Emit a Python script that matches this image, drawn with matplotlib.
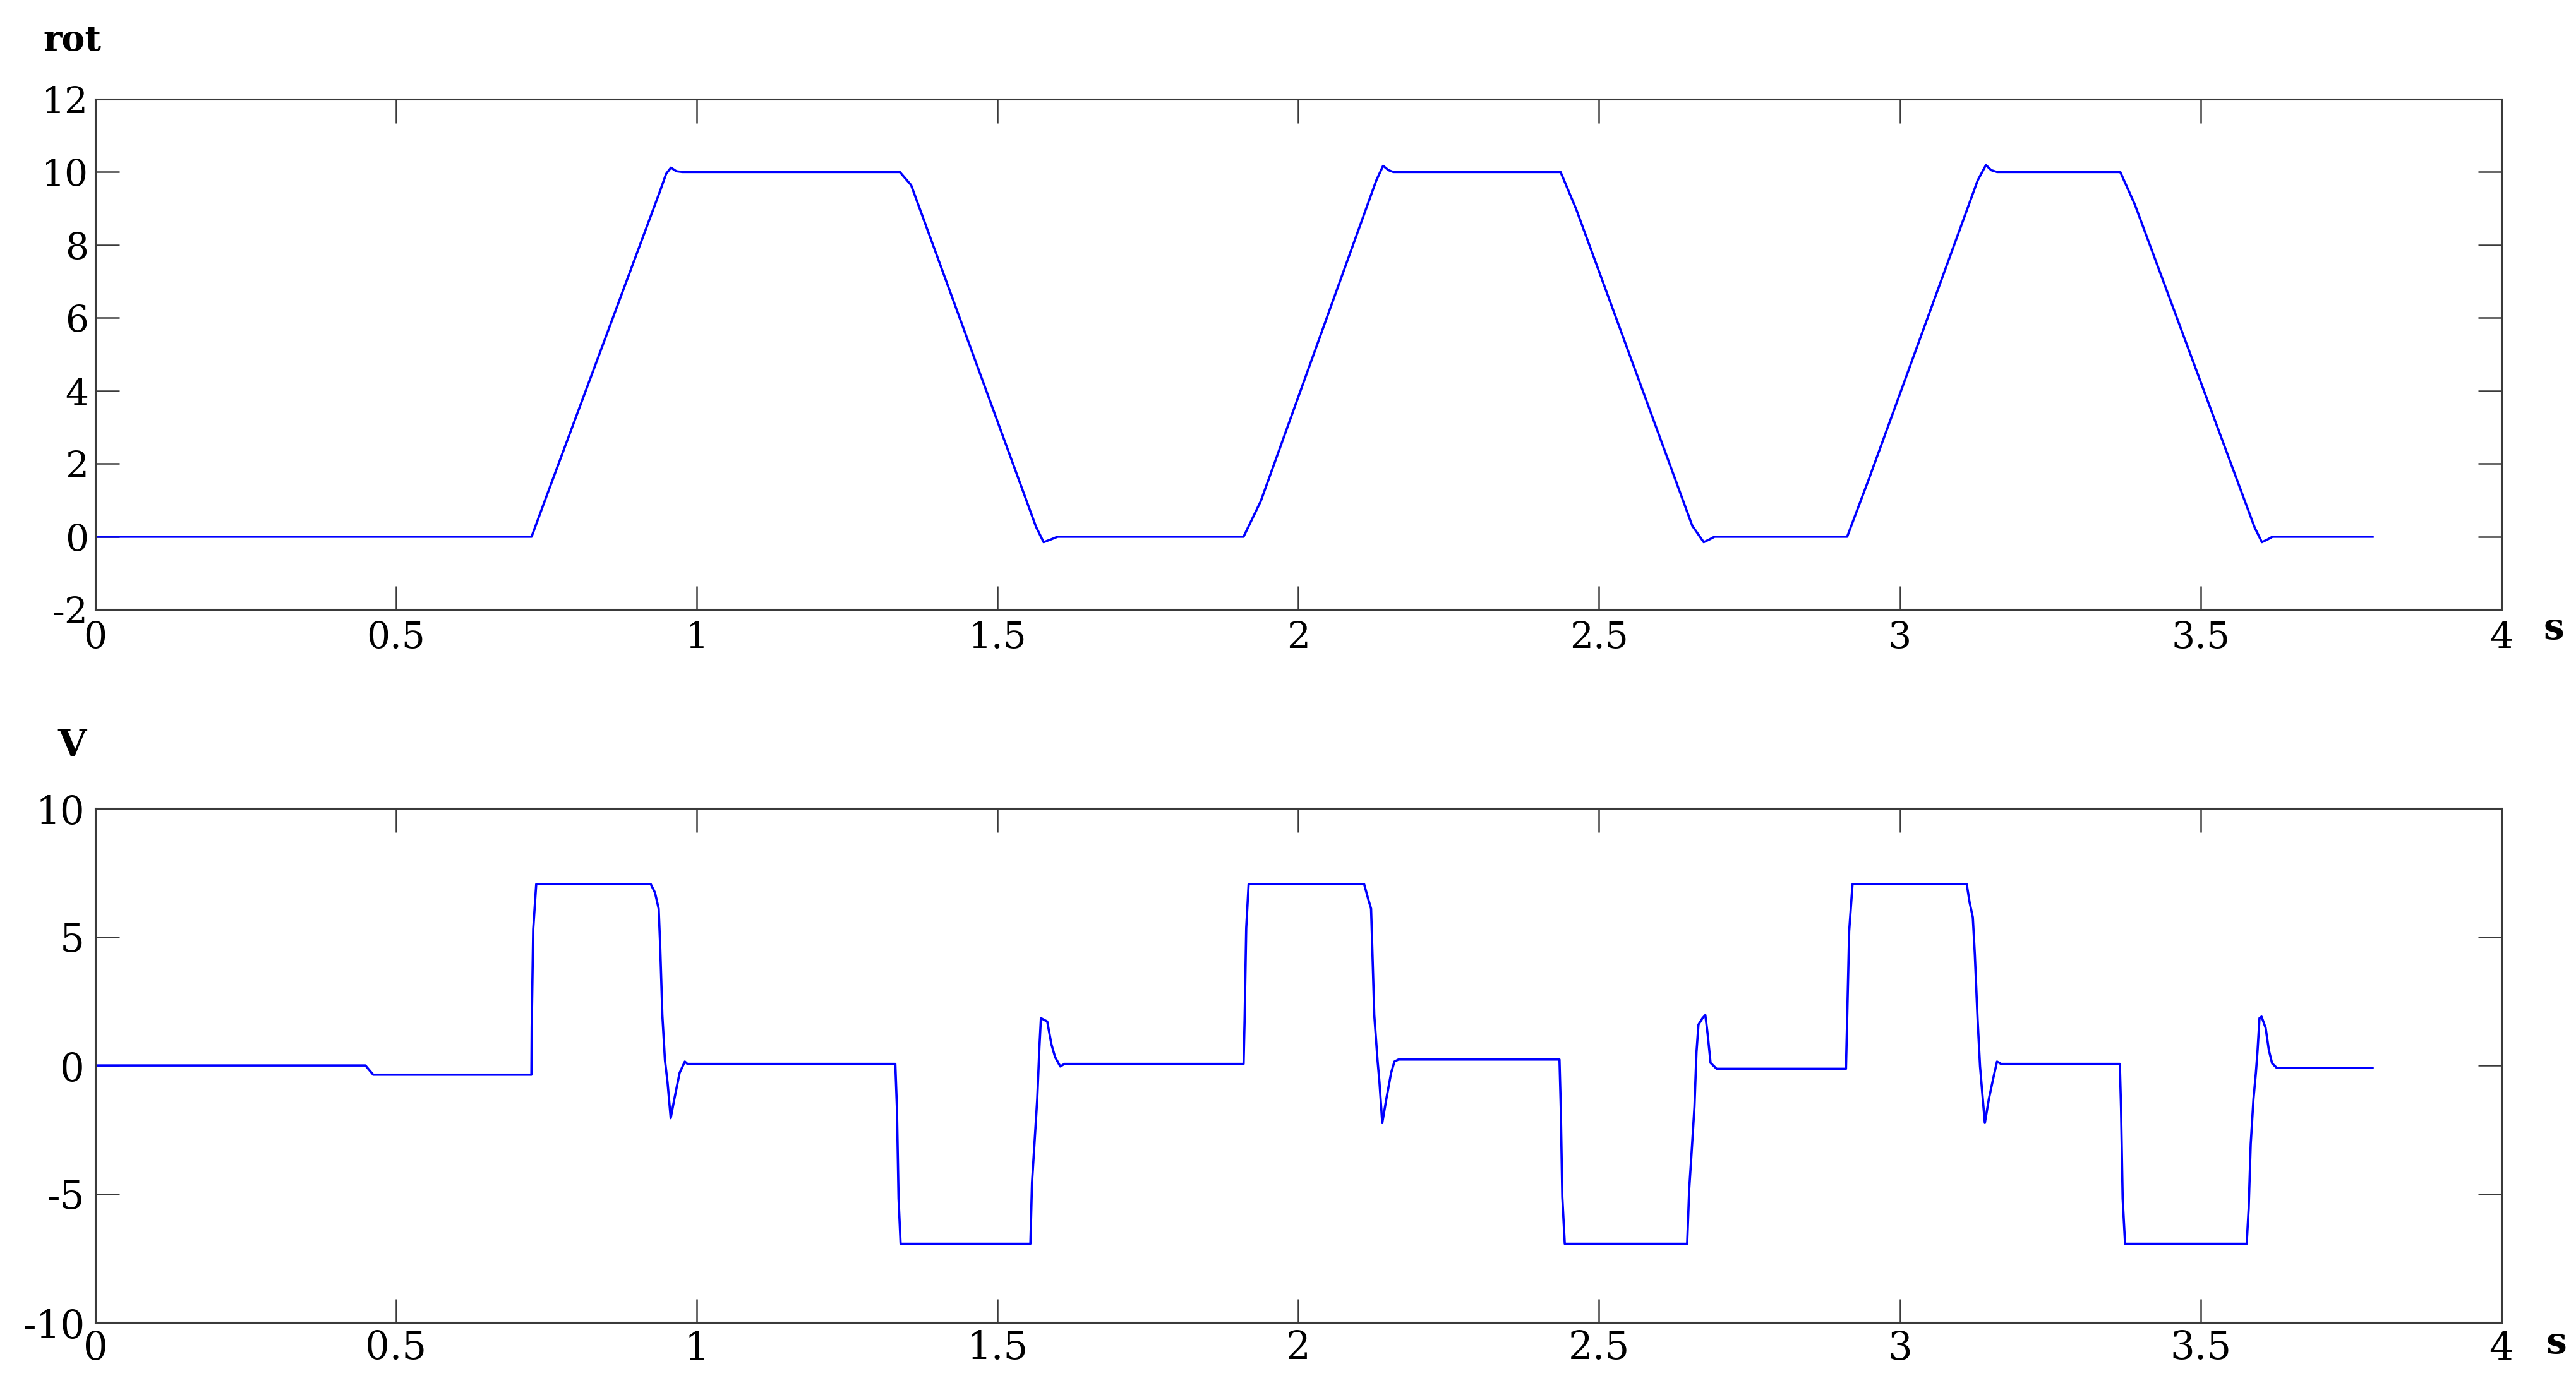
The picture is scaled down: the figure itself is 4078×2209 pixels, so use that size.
import matplotlib
matplotlib.use("Agg")
import matplotlib.pyplot as plt

# --- data ---
rot_t = [0.0, 0.7253, 0.751, 0.9385, 0.949, 0.957, 0.966, 0.976,
         1.3375, 1.3563, 1.564, 1.5766, 1.588, 1.600,
         1.909, 1.9375, 2.1297, 2.141, 2.150, 2.158,
         2.436, 2.462, 2.655, 2.674, 2.683, 2.692,
         2.9125, 2.9488, 3.1295, 3.1432, 3.152, 3.1617,
         3.3665, 3.3907, 3.590, 3.602, 3.611, 3.6196, 3.786]
rot_v = [0.0, 0.0, 1.15, 9.46, 9.95, 10.12, 10.02, 10.0,
         10.0, 9.64, 0.27, -0.15, -0.08, 0.0,
         0.0, 0.97, 9.77, 10.17, 10.05, 10.0,
         10.0, 8.98, 0.30, -0.15, -0.08, 0.0,
         0.0, 1.59, 9.77, 10.19, 10.05, 10.0,
         10.0, 9.11, 0.25, -0.15, -0.08, 0.0, 0.0]

volt_t = [0.0, 0.449, 0.462, 0.725, 0.7255, 0.728, 0.733,
          0.9235, 0.9305, 0.9366, 0.9392, 0.9427, 0.947, 0.9514, 0.9566,
          0.9627, 0.9714, 0.9801, 0.9844,
          1.330, 1.3327, 1.3354, 1.3388,
          1.5546, 1.5573, 1.5617, 1.566, 1.5696, 1.5721, 1.5826, 1.5895,
          1.5956, 1.6043, 1.6113,
          1.909, 1.9107, 1.9134, 1.9174,
          2.1095, 2.1163, 2.121, 2.123, 2.1263, 2.1317, 2.135, 2.1396,
          2.1464, 2.1543, 2.1598, 2.1664,
          2.4342, 2.4363, 2.4389, 2.443,
          2.6465, 2.6499, 2.6539, 2.6586, 2.662, 2.6653, 2.672, 2.6767,
          2.6806, 2.6854, 2.6955,
          2.9105, 2.9125, 2.9158, 2.9214,
          3.1113, 3.116, 3.1214, 3.1247, 3.1294, 3.1334, 3.1368, 3.1414,
          3.1481, 3.1549, 3.1616, 3.1683,
          3.3658, 3.3678, 3.3705, 3.3745,
          3.5767, 3.580, 3.5834, 3.588, 3.592, 3.5948, 3.598, 3.6014,
          3.6082, 3.6136, 3.619, 3.6269, 3.786]
volt_v = [0.0, 0.0, -0.36, -0.36, 1.5, 5.3, 7.05,
          7.05, 6.72, 6.10, 4.59, 1.96, 0.21, -0.67, -2.05,
          -1.30, -0.29, 0.15, 0.06,
          0.06, -1.67, -5.18, -6.94,
          -6.94, -4.56, -2.92, -1.30, 0.71, 1.84, 1.71, 0.83,
          0.33, -0.04, 0.06,
          0.06, 1.77, 5.35, 7.05,
          7.05, 6.47, 6.10, 4.59, 1.96, 0.21, -0.67, -2.24,
          -1.30, -0.29, 0.15, 0.23,
          0.23, -1.61, -5.12, -6.94,
          -6.94, -4.81, -3.37, -1.61, 0.52, 1.59, 1.84, 1.96,
          1.21, 0.10, -0.13,
          -0.13, 1.84, 5.22, 7.05,
          7.05, 6.35, 5.76, 4.34, 1.77, -0.04, -0.98, -2.24,
          -1.30, -0.55, 0.15, 0.06,
          0.06, -1.67, -5.18, -6.94,
          -6.94, -5.56, -3.05, -1.30, -0.29, 0.59, 1.84, 1.90,
          1.46, 0.59, 0.08, -0.10, -0.10]

x_ticks = [0, 0.5, 1, 1.5, 2, 2.5, 3, 3.5, 4]
x_labels = ["0", "0.5", "1", "1.5", "2", "2.5", "3", "3.5", "4"]
rot_ticks = [-2, 0, 2, 4, 6, 8, 10, 12]
volt_ticks = [-10, -5, 0, 5, 10]

FONT = "DejaVu Serif"
EDGE = "#3a3a3a"
LINE = "#0000ff"

plt.rcParams["font.family"] = [FONT, "DejaVu Sans"]

fig = plt.figure(figsize=(40.78, 22.09), dpi=100)
ax_top = fig.add_axes([0.037, 0.563, 0.934, 0.366])
ax_bot = fig.add_axes([0.037, 0.052, 0.934, 0.3685])


def style_axes(ax, yticks, fsize, ypad, xpad):
    ax.set_xlim(0, 4)
    ax.set_ylim(yticks[0], yticks[-1])
    ax.set_xticks(x_ticks, x_labels)
    ax.set_yticks(yticks, [str(v) for v in yticks])
    ax.tick_params(axis="both", direction="in", length=27, width=1.8,
                   color=EDGE, top=True, right=True, labelcolor="black",
                   labelsize=fsize)
    ax.tick_params(axis="x", pad=xpad)
    ax.tick_params(axis="y", pad=ypad)
    for sp in ax.spines.values():
        sp.set_linewidth(2.2)
        sp.set_color(EDGE)


ax_top.plot(rot_t, rot_v, color=LINE, lw=2.6)
style_axes(ax_top, rot_ticks, 42, 8, 12)

ax_bot.plot(volt_t, volt_v, color=LINE, lw=2.6)
style_axes(ax_bot, volt_ticks, 44, 12, 8)

# unit labels
fig.text(0.028, 0.9706, "rot", fontweight="bold", fontsize=40,
         ha="center", va="center")
fig.text(0.028, 0.4654, "V", fontweight="bold", fontsize=42,
         ha="center", va="center")
fig.text(0.9914, 0.549, "s", fontweight="bold", fontsize=42,
         ha="center", va="center")
fig.text(0.9924, 0.0371, "s", fontweight="bold", fontsize=42,
         ha="center", va="center")

fig.savefig("out.png", dpi=100, facecolor="white")
